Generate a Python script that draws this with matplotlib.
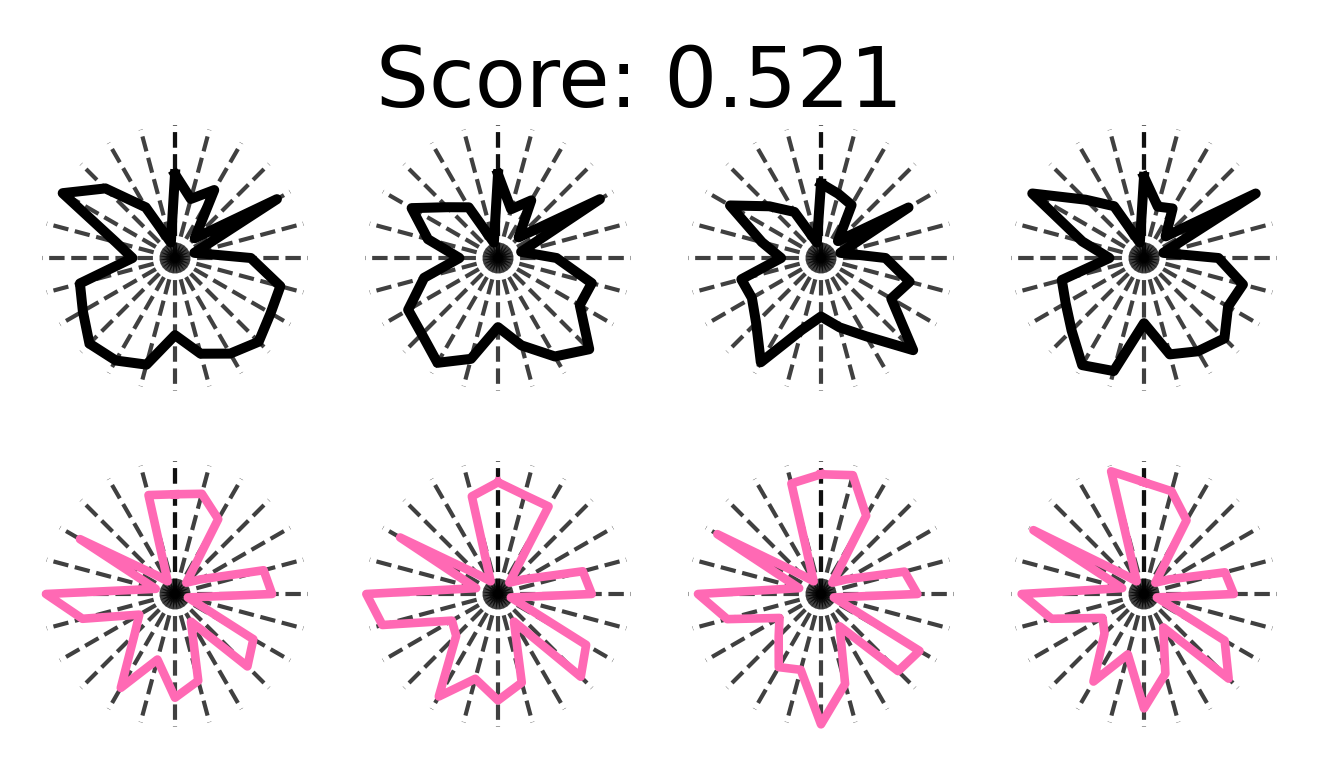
import numpy as np
import matplotlib.pyplot as plt

# radius of each of the 24 points, clockwise from the top
black_1 = [0.63, 0.46, 0.59, 0.21, 0.885, 0.15, 0.57, 0.82, 0.83, 0.89, 0.83, 0.745,
           0.58, 0.83, 0.89, 0.91, 0.80, 0.74, 0.32, 0.46, 0.975, 0.74, 0.44, 0.12]
black_2 = [0.63, 0.38, 0.50, 0.22, 0.885, 0.18, 0.44, 0.73, 0.71, 0.97, 0.855, 0.68,
           0.52, 0.785, 0.91, 0.81, 0.78, 0.575, 0.29, 0.545, 0.75, 0.54, 0.44, 0.12]
black_3 = [0.56, 0.50, 0.46, 0.18, 0.76, 0.15, 0.485, 0.69, 0.61, 0.98, 0.68, 0.54,
           0.44, 0.56, 0.905, 0.69, 0.60, 0.62, 0.30, 0.46, 0.79, 0.55, 0.40, 0.12]
black_4 = [0.61, 0.40, 0.43, 0.23, 0.97, 0.15, 0.56, 0.77, 0.73, 0.855, 0.81, 0.75,
           0.49, 0.88, 0.93, 0.77, 0.68, 0.64, 0.26, 0.48, 0.97, 0.62, 0.45, 0.12]

pink_1 = [0.75, 0.78, 0.65, 0.12, 0.22, 0.69, 0.73, 0.10, 0.68, 0.77, 0.24, 0.675,
          0.78, 0.51, 0.815, 0.43, 0.31, 0.72, 0.97, 0.15, 0.825, 0.20, 0.11, 0.77]
pink_2 = [0.84, 0.77, 0.76, 0.12, 0.22, 0.66, 0.705, 0.10, 0.765, 0.88, 0.24, 0.69,
          0.80, 0.66, 0.89, 0.445, 0.40, 0.90, 0.99, 0.17, 0.85, 0.20, 0.11, 0.76]
pink_3 = [0.90, 0.925, 0.68, 0.12, 0.22, 0.65, 0.725, 0.10, 0.855, 0.82, 0.28, 0.70,
          0.98, 0.59, 0.635, 0.45, 0.36, 0.73, 0.925, 0.17, 0.90, 0.20, 0.11, 0.86]
pink_4 = [0.84, 0.80, 0.64, 0.12, 0.22, 0.63, 0.675, 0.10, 0.70, 0.90, 0.29, 0.62,
          0.86, 0.47, 0.76, 0.42, 0.36, 0.72, 0.92, 0.17, 0.96, 0.20, 0.11, 0.955]

score = 0.521

rows = [[black_1, black_2, black_3, black_4], [pink_1, pink_2, pink_3, pink_4]]
row_colors = ["black", "hotpink"]
row_widths = [7.2, 6.2]

n = 24
theta = np.linspace(0, 2 * np.pi, n, endpoint=False)
theta_closed = np.append(theta, theta[0])
spokes = np.linspace(0, 2 * np.pi, n + 1)

W, H = 1320, 770
fig = plt.figure(figsize=(W / 100, H / 100), dpi=100)

cx = [175, 498, 821, 1144]
cy = [258, 594]
R = 133

for i in range(2):
    for j in range(4):
        ax = fig.add_axes([(cx[j] - R) / W, 1 - (cy[i] + R) / H, 2 * R / W, 2 * R / H],
                          projection="polar")
        ax.set_theta_zero_location("N")
        ax.set_theta_direction(-1)
        for t in spokes:
            ax.plot([t, t], [0, 1], "--", color="black", alpha=0.75, lw=3.0)
        vals = np.array(rows[i][j])
        ax.plot(theta_closed, np.append(vals, vals[0]), color=row_colors[i],
                lw=row_widths[i], clip_on=False, zorder=3)
        ax.set_ylim(0, 1)
        ax.axis("off")

fig.text(639 / W, 1 - 107 / H, "Score: %.3f" % score, fontsize=60,
         ha="center", va="baseline")

fig.savefig("out.png", dpi=100)
